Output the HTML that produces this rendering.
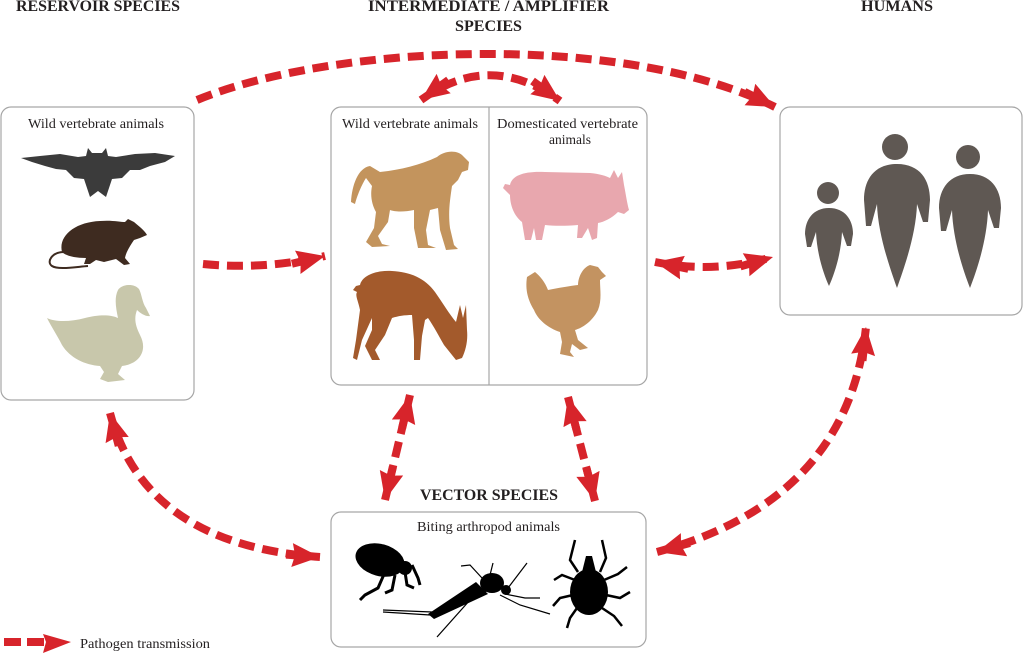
<!DOCTYPE html>
<html>
<head>
<meta charset="utf-8">
<style>
html,body{margin:0;padding:0;background:#fff;}
svg{display:block;}
.t{font-family:"Liberation Serif",serif;fill:#231f20;}
.h{font-weight:bold;font-size:16px;}
.l{font-size:14px;}
</style>
</head>
<body>
<svg width="1024" height="655" viewBox="0 0 1024 655" xmlns="http://www.w3.org/2000/svg">
<defs>
<marker id="ah" markerUnits="userSpaceOnUse" markerWidth="38" markerHeight="26" refX="28" refY="12" orient="auto-start-reverse" viewBox="-8 0 38 26">
<rect x="-6" y="8" width="10" height="8" fill="#d7242b"/>
<path d="M0,0 L28,12 L0,24 L3,12 Z" fill="#d7242b"/>
</marker>
</defs>

<!-- Titles -->
<text class="t h" x="16" y="11" textLength="164" lengthAdjust="spacingAndGlyphs">RESERVOIR SPECIES</text>
<text class="t h" x="368" y="11" textLength="241" lengthAdjust="spacingAndGlyphs">INTERMEDIATE / AMPLIFIER</text>
<text class="t h" x="455" y="31" textLength="67" lengthAdjust="spacingAndGlyphs">SPECIES</text>
<text class="t h" x="861" y="11" textLength="72" lengthAdjust="spacingAndGlyphs">HUMANS</text>
<text class="t h" x="420" y="500" textLength="138" lengthAdjust="spacingAndGlyphs">VECTOR SPECIES</text>

<!-- Boxes -->
<g fill="none" stroke="#a6a6a6" stroke-width="1.2">
<rect x="1" y="107" width="193" height="293" rx="10"/>
<rect x="331" y="107" width="316" height="278" rx="10"/>
<line x1="489" y1="107" x2="489" y2="385"/>
<rect x="780" y="107" width="242" height="208" rx="10"/>
<rect x="331" y="512" width="315" height="135" rx="10"/>
</g>

<!-- Box labels -->
<text class="t l" x="28" y="128" textLength="136" lengthAdjust="spacingAndGlyphs">Wild vertebrate animals</text>
<text class="t l" x="342" y="128" textLength="136" lengthAdjust="spacingAndGlyphs">Wild vertebrate animals</text>
<text class="t l" x="497" y="128" textLength="141" lengthAdjust="spacingAndGlyphs">Domesticated vertebrate</text>
<text class="t l" x="549" y="144" textLength="42" lengthAdjust="spacingAndGlyphs">animals</text>
<text class="t l" x="417" y="531" textLength="143" lengthAdjust="spacingAndGlyphs">Biting arthropod animals</text>

<!-- Arrows -->
<g fill="none" stroke="#d7242b" stroke-width="8" stroke-dasharray="16 8">
<path d="M197,100 C330,45 620,30 775,107" marker-end="url(#ah)"/>
<path d="M421,100 Q490,50 560,101" marker-start="url(#ah)" marker-end="url(#ah)"/>
<path d="M203,264 Q265,270 325,256" marker-end="url(#ah)"/>
<path d="M655,262 Q714,274 773,257" marker-start="url(#ah)" marker-end="url(#ah)"/>
<path d="M110,413 Q145,545 320,557" marker-start="url(#ah)" marker-end="url(#ah)"/>
<path d="M657,552 Q848,500 866,327" marker-start="url(#ah)" marker-end="url(#ah)"/>
<path d="M410,395 L385,500" marker-start="url(#ah)" marker-end="url(#ah)"/>
<path d="M568,397 L595,501" marker-start="url(#ah)" marker-end="url(#ah)"/>
</g>

<!-- Legend -->
<g fill="#d7242b">
<rect x="4" y="638" width="17" height="8"/>
<rect x="27" y="638" width="17" height="8"/>
<path d="M43,634 L71,642 L43,653 L46,642 Z"/>
</g>
<text class="t" x="80" y="648" font-size="13.5" textLength="130" lengthAdjust="spacingAndGlyphs">Pathogen transmission</text>

<!-- Bat -->
<path fill="#3b3b3b" d="M21,158 L40,156 L60,154 L78,157 L86,156 L88,148 L92,153 L102,153 L106,148 L108,156 L116,157 L135,154 L155,153 L175,156 L165,162 L150,166 L140,170 L130,170 L122,178 L112,179 L106,197 L98,191 L90,197 L84,179 L74,178 L66,170 L56,169 L45,166 L32,162 Z"/>

<!-- Rat -->
<path fill="#3e2b20" d="M62,252 C58,236 75,222 100,221 C112,220 120,222 125,222 L128,219 L134,222 C140,227 145,231 147,235 L140,238 L134,240 C130,246 126,252 125,258 L130,264 L124,265 L116,259 L104,262 L96,260 L90,264 L84,264 L86,258 C75,258 66,256 62,252 Z"/>
<path fill="none" stroke="#3e2b20" stroke-width="2" d="M64,252 C52,252 46,262 52,266 C58,270 75,267 88,266"/>

<!-- Duck -->
<path fill="#c8c7ab" d="M47,318 C55,322 70,322 85,318 C100,314 112,315 118,318 C116,308 114,298 118,290 C122,284 134,283 139,289 C142,295 142,302 146,308 L150,316 C146,317 140,313 137,310 C134,318 135,325 140,335 C148,350 140,364 122,366 L118,374 L125,380 L108,382 L100,379 L104,372 L100,366 C85,365 70,358 62,345 C57,335 52,328 47,318 Z"/>

<!-- Baboon -->
<path fill="#c3945d" d="M351,202 C352,185 358,168 370,166 L380,172 C400,170 420,165 437,157 C445,150 458,150 463,156 L469,162 L468,170 L462,172 L458,180 L452,186 C450,200 448,212 450,228 L454,245 L458,249 L446,250 L440,230 L438,208 L430,210 L426,230 L428,245 L436,248 L418,248 L414,228 L414,210 C405,212 395,212 390,210 L388,222 L378,236 L382,244 L390,246 L372,247 L366,242 L374,228 L376,212 C372,205 370,196 372,186 L366,178 C362,184 357,196 355,204 Z"/>

<!-- Deer -->
<path fill="#a35a2c" d="M360,285 C362,276 375,270 392,271 C410,272 425,278 435,292 C442,302 450,315 456,322 L460,305 L463,318 L466,305 L467,330 C468,340 466,350 462,358 L456,360 C452,355 448,350 444,345 C440,338 433,325 428,318 L425,320 L422,336 L420,360 L414,360 L414,340 L412,315 C405,315 398,316 392,318 L385,335 L375,350 L380,360 L372,360 L365,346 L372,330 L372,318 L362,340 L357,360 L353,358 L356,340 L360,310 C358,300 355,296 357,292 L353,290 L356,286 Z"/>

<!-- Pig -->
<path fill="#e8a7ae" d="M510,185 C512,175 525,171 545,172 L590,173 C600,174 606,176 610,178 L614,170 L618,178 L622,172 L624,185 C626,195 627,203 629,210 L624,214 L618,212 C612,218 604,222 598,223 L597,238 L592,240 L588,228 L582,238 L577,238 L578,225 C565,226 555,226 545,225 L542,240 L536,240 L534,228 L531,240 L525,240 L522,222 C514,216 510,205 510,195 L503,188 L505,184 Z"/>

<!-- Chicken -->
<path fill="#c39361" d="M527,277 L535,272 C540,276 545,282 548,290 C558,288 570,286 578,285 C578,278 582,268 590,265 L598,267 L602,272 L606,276 L600,280 C600,290 602,300 598,310 C592,322 582,328 575,330 L578,340 L588,348 L580,350 L572,344 L570,352 L574,357 L560,354 L562,342 L560,332 C548,328 538,320 534,310 C528,300 525,290 527,277 Z"/>

<!-- Humans -->
<g fill="#5f5853">
<circle cx="828" cy="193" r="11"/>
<path d="M829,208 C813,208 805,220 805,234 L807,247 L811,247 L816,232 C817,255 824,275 829,286 C834,275 841,255 842,232 L847,246 L851,246 L853,234 C853,220 845,208 829,208 Z"/>
<circle cx="895" cy="147" r="13"/>
<path d="M897,164 C874,164 864,180 864,200 L866,226 L871,226 L877,204 C878,235 890,268 897,288 C904,268 916,235 917,204 L923,222 L928,222 L930,200 C930,180 920,164 897,164 Z"/>
<circle cx="968" cy="157" r="12"/>
<path d="M970,174 C950,174 939,188 939,208 L941,231 L946,231 L952,210 C953,240 963,270 970,288 C977,270 987,240 988,210 L994,228 L999,228 L1001,208 C1001,188 990,174 970,174 Z"/>
</g>

<!-- Flea -->
<g fill="#000" stroke="#000">
<ellipse cx="380" cy="560" rx="25" ry="16" transform="rotate(15 380 560)" stroke="none"/>
<circle cx="405" cy="568" r="7" stroke="none"/>
<g fill="none" stroke-width="3">
<path d="M385,572 L378,588 L365,595 L360,600"/>
<path d="M395,575 L392,590 L385,593"/>
<path d="M405,572 L407,585 L414,588"/>
<path d="M412,565 L418,578 L420,585"/>
</g>
</g>

<!-- Mosquito -->
<g fill="#000" stroke="#000">
<path d="M428,614 L476,582 L488,594 L434,619 Z" stroke="none"/>
<ellipse cx="492" cy="583" rx="12" ry="10" stroke="none"/>
<circle cx="506" cy="590" r="5" stroke="none"/>
<g fill="none" stroke-width="1.2">
<path d="M383,610 L432,612"/>
<path d="M383,612 L430,615"/>
<path d="M488,590 L470,600 L437,637"/>
<path d="M500,595 L520,605 L550,614"/>
<path d="M505,594 L525,598 L540,598"/>
<path d="M508,588 L527,563"/>
<path d="M482,578 L470,565 L461,566"/>
<path d="M490,575 L493,563"/>
</g>
</g>

<!-- Tick -->
<g fill="#000" stroke="#000">
<ellipse cx="589" cy="592" rx="19" ry="23" stroke="none"/>
<path d="M582,572 L586,556 L592,556 L596,572 Z" stroke="none"/>
<g fill="none" stroke-width="2.5">
<path d="M578,572 L570,560 L575,540"/>
<path d="M575,580 L562,575 L554,580"/>
<path d="M573,595 L560,598 L553,606"/>
<path d="M577,608 L570,618 L567,628"/>
<path d="M600,572 L606,558 L602,540"/>
<path d="M604,580 L618,574 L627,567"/>
<path d="M606,595 L620,598 L630,592"/>
<path d="M602,608 L614,616 L622,626"/>
</g>
</g>
</svg>
</body>
</html>
